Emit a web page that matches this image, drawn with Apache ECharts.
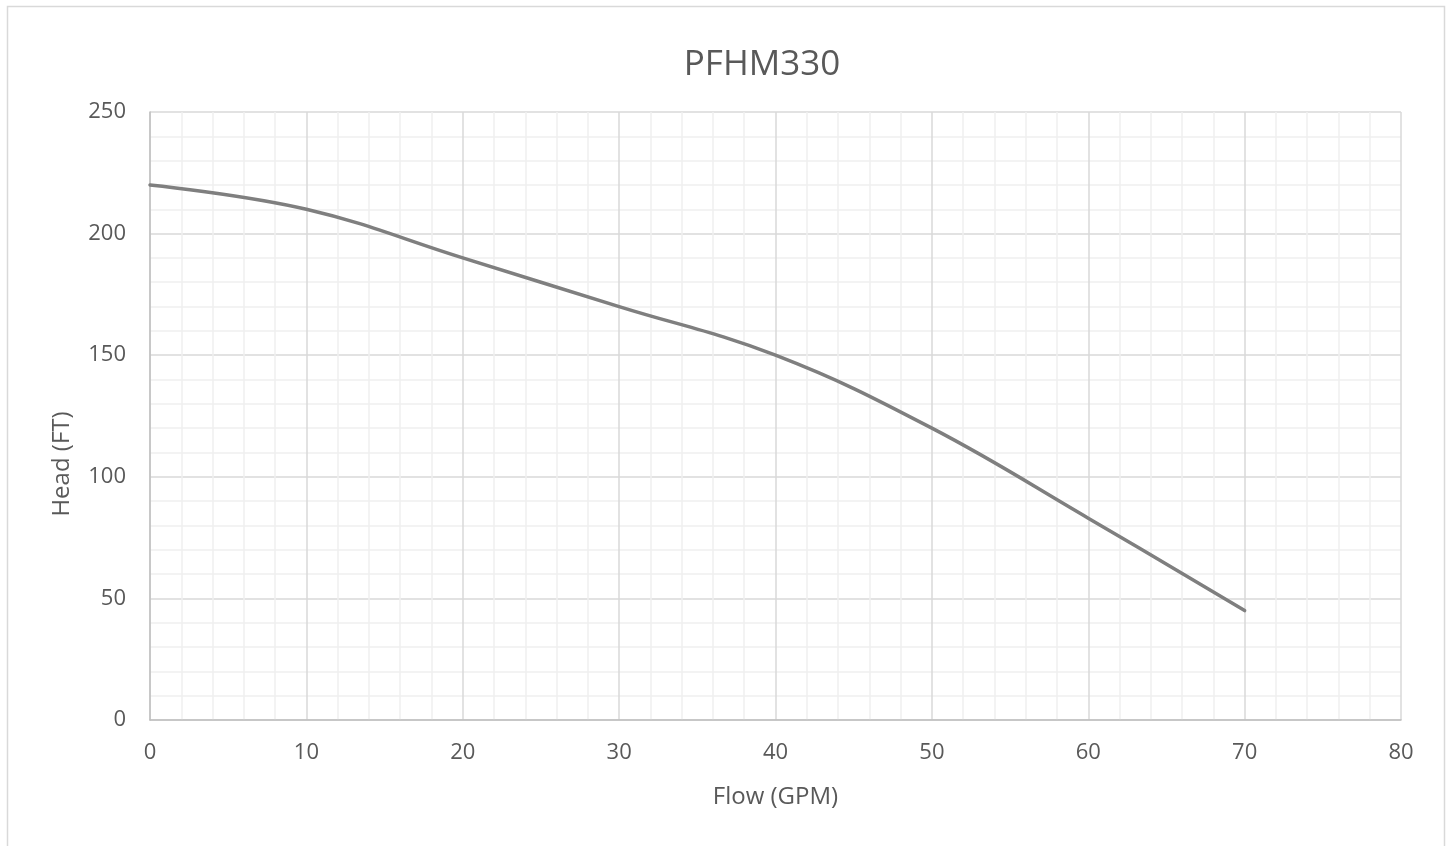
<!DOCTYPE html>
<html>
<head>
<meta charset="utf-8">
<script src="https://cdn.jsdelivr.net/npm/echarts@6/dist/echarts.min.js"></script>
<style>
html,body{margin:0;padding:0;background:#fff;}
#chart{width:1450px;height:846px;}
</style>
</head>
<body>
<div id="chart"></div>
<script>
const chartTitle = 'PFHM330';
const xName = 'Flow (GPM)';
const yName = 'Head (FT)';
const flow = [0, 10, 20, 30, 40, 50, 60, 70];
const head = [220, 210, 190, 170, 150, 120, 83, 45];

const FONT = '"Open Sans", "Noto Sans", sans-serif';
const TXT = '#595959';

const chart = echarts.init(document.getElementById('chart'), null, {renderer: 'canvas'});
chart.setOption({
  backgroundColor: '#ffffff',
  animation: false,
  graphic: [{
    type: 'rect',
    shape: {x: 7.5, y: 6.5, width: 1437, height: 860},
    style: {fill: 'none', stroke: '#d9d9d9', lineWidth: 1.5},
    silent: true
  }],
  title: {
    text: chartTitle,
    left: 757,
    textAlign: 'center',
    top: 43,
    textStyle: {fontFamily: FONT, fontSize: 35, fontWeight: 'normal', color: TXT}
  },
  grid: {left: 150, right: 49, top: 112, bottom: 126, containLabel: false},
  xAxis: {
    type: 'value',
    min: 0, max: 80, interval: 10,
    name: xName,
    nameLocation: 'middle',
    nameGap: 65,
    nameTextStyle: {fontFamily: FONT, fontSize: 24, color: TXT},
    axisLine: {show: true, lineStyle: {color: '#bfbfbf', width: 1.5}},
    axisTick: {show: false},
    axisLabel: {fontFamily: FONT, fontSize: 22, color: TXT, margin: 22},
    splitLine: {show: true, lineStyle: {color: '#d9d9d9', width: 1.5}},
    minorTick: {show: false, splitNumber: 5},
    minorSplitLine: {show: true, lineStyle: {color: '#f0f0f0', width: 1.5}}
  },
  yAxis: {
    type: 'value',
    min: 0, max: 250, interval: 50,
    name: yName,
    nameLocation: 'middle',
    nameGap: 76,
    nameRotate: 90,
    nameTextStyle: {fontFamily: FONT, fontSize: 24, color: TXT, padding: [0, 96, 0, 0]},
    axisLine: {show: true, lineStyle: {color: '#bfbfbf', width: 1.5}},
    axisTick: {show: false},
    axisLabel: {fontFamily: FONT, fontSize: 22, color: TXT, margin: 24, padding: [6, 0, 0, 0]},
    splitLine: {show: true, lineStyle: {color: '#d9d9d9', width: 1.5}},
    minorTick: {show: false, splitNumber: 5},
    minorSplitLine: {show: true, lineStyle: {color: '#f0f0f0', width: 1.5}}
  },
  series: [{
    type: 'line',
    data: flow.map((x, i) => [x, head[i]]),
    smooth: 0.4,
    showSymbol: false,
    lineStyle: {color: '#7f7f7f', width: 3.5, cap: 'round'},
    itemStyle: {color: '#7f7f7f'}
  }]
});
</script>
</body>
</html>
